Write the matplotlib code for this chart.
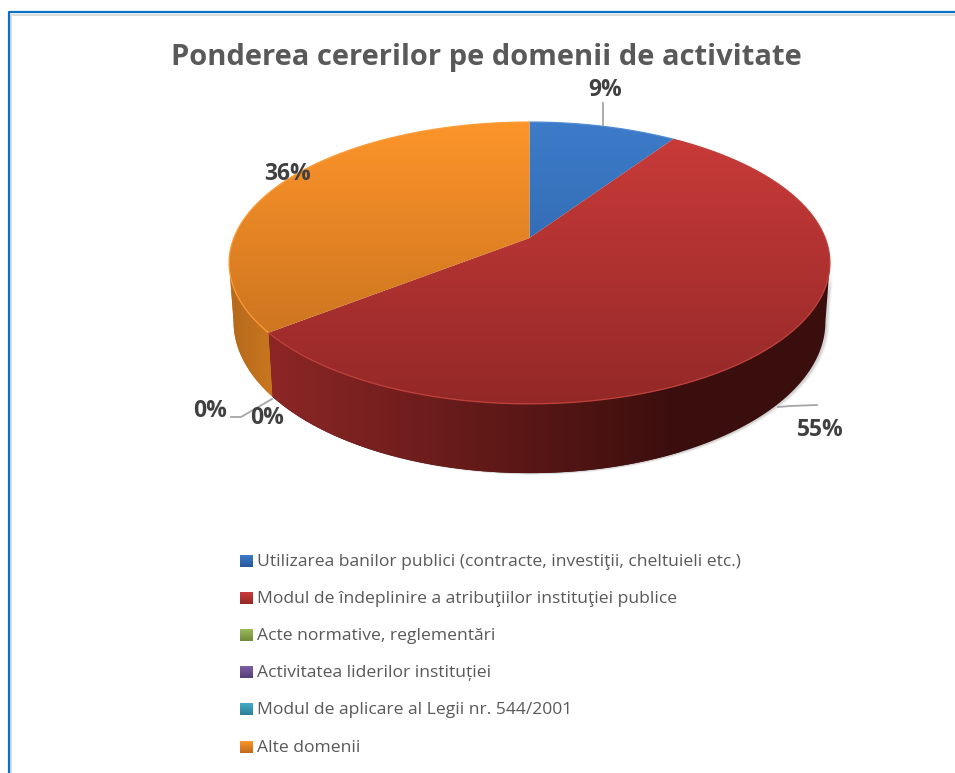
import numpy as np
import matplotlib
matplotlib.use("Agg")
from matplotlib import pyplot as plt
from matplotlib.colors import to_rgb
from matplotlib.patches import Polygon

title = "Ponderea cererilor pe domenii de activitate"
categories = [
    "Utilizarea banilor publici (contracte, investiţii, cheltuieli etc.)",
    "Modul de îndeplinire a atribuţiilor instituţiei publice",
    "Acte normative, reglementări",
    "Activitatea liderilor instituției",
    "Modul de aplicare al Legii nr. 544/2001",
    "Alte domenii",
]
values = [9.4, 55, 0, 0, 0, 35.6]

top_colors = [("#3d7cca", "#28599a"), ("#cc3c3a", "#922827"), ("#9bbb59", "#6f8a3a"),
              ("#7d5fa5", "#553d78"), ("#46aac5", "#2c7f98"), ("#fd952a", "#bd6a1c")]
wall_colors = [("#28599a", "#1c3f6e"), ("#8e2726", "#3a0e0d"), ("#6f8a3a", "#4e6228"),
               ("#553d78", "#3a2853"), ("#2c7f98", "#1d5a6d"), ("#b3681c", "#cc771f")]
wall_range = [(529, 672), (262, 680), (0, 1), (0, 1), (0, 1), (225, 278)]
rim_colors = ["#4f8ad4", "#c0413c", "#9bbb59", "#7d5fa5", "#46aac5", "#fd9c38"]

# pozitii in pixeli
cx, cy = 529.5, 238
R, H, K, D = 295.7, 136.5, 0.177, 57
label_pos = [(605, 90), (820, 430), (210, 411), (267, 418), None, (288, 174)]
legend_y = [562, 599, 636, 673, 710, 748]

plt.rcParams["font.family"] = ["Open Sans", "DejaVu Sans"]
fig = plt.figure(figsize=(9.55, 7.73), dpi=100)
ax = fig.add_axes([0, 0, 1, 1])
ax.axis("off")


def top_xy(theta):
    u, v = np.sin(theta), np.cos(theta)
    s = 1 / (1 + K * v)
    return cx + R * u * s, cy - H * v * s


def base_xy(theta):
    u, v = np.sin(theta), np.cos(theta)
    s = 1 / (1 + K * v)
    return cx + 0.985 * R * u * s, cy - H * v * s + D * s


def gradient(c1, c2, extent, zorder, horizontal=False):
    a, b = np.array(to_rgb(c1)), np.array(to_rgb(c2))
    t = np.linspace(0, 1, 256)
    if horizontal:
        t = t[None, :, None]
    else:
        t = t[:, None, None]
    img = a[None, None, :] * (1 - t) + b[None, None, :] * t
    return ax.imshow(img, extent=extent, aspect="auto", zorder=zorder, interpolation="bilinear")


angles = 2 * np.pi * np.cumsum([0] + values) / sum(values)
# peretele se vede doar intre cele doua tangente verticale
side_a = np.arccos(-K)
side_b = 2 * np.pi - side_a

# umbra
th = np.linspace(side_a, side_b, 300)
x1, y1 = top_xy(th)
x2, y2 = base_xy(th)
for off, alpha in [(4, 0.06), (3, 0.09), (2, 0.12)]:
    ax.fill(np.r_[x1, x2[::-1]] + off, np.r_[y1, y2[::-1]] + off * 0.4, color="#555555", alpha=alpha, lw=0, zorder=1)

# peretele lateral
for i, val in enumerate(values):
    start, end = max(angles[i], side_a), min(angles[i + 1], side_b)
    if val == 0 or end <= start:
        continue
    th = np.linspace(start, end, 200)
    x1, y1 = top_xy(th)
    x2, y2 = base_xy(th)
    pts = np.column_stack([np.r_[x1, x2[::-1]], np.r_[y1, y2[::-1]]])
    # in afara intervalului culoarea ramane constanta
    ax.add_patch(Polygon(pts, closed=True, fc=wall_colors[i][1], ec="none", zorder=1.5))
    poly = Polygon(pts, closed=True, fc="none", ec="none", zorder=2)
    ax.add_patch(poly)
    x0, x9 = wall_range[i]
    im = gradient(wall_colors[i][0], wall_colors[i][1], (x0, x9, 480, 100), 2, horizontal=True)
    im.set_clip_path(poly)

# fata de sus
for i, val in enumerate(values):
    if val == 0:
        continue
    th = np.linspace(angles[i], angles[i + 1], 300)
    x, y = top_xy(th)
    poly = Polygon(np.column_stack([np.r_[cx, x], np.r_[cy, y]]), closed=True, fc="none", ec="none", zorder=3)
    ax.add_patch(poly)
    im = gradient(top_colors[i][0], top_colors[i][1], (220, 840, 410, 118), 3)
    im.set_clip_path(poly)
    ax.plot(x, y, color=rim_colors[i], lw=0.9, zorder=4, solid_capstyle="butt")

# etichete
for val, pos in zip(values, label_pos):
    if pos is None:
        continue
    ax.text(pos[0], pos[1], f"{val:.0f}%", ha="center", va="center", fontsize=16.5,
            fontweight="bold", color="#404040", zorder=6)

ax.plot([603, 603], [103, 125], color="#a6a6a6", lw=1.3, zorder=2)
ax.plot([778, 790, 817], [407, 406, 405], color="#a6a6a6", lw=1.3, zorder=5)
ax.plot([231, 241, 272], [417, 417, 399], color="#a6a6a6", lw=1.3, zorder=5)

ax.text(486.5, 57, title, ha="center", va="center", fontsize=21, fontweight="bold", color="#595959")

# legenda
for i, name in enumerate(categories):
    y = legend_y[i]
    gradient(top_colors[i][0], top_colors[i][1], (240, 253, y + 5.5, y - 6), 3)
    ax.text(257, y, name, ha="left", va="center", fontsize=12.6, color="#595959")

# chenar
ax.plot([11, 11, 955], [773, 14.5, 14.5], color="#dcdcdc", lw=1.5)
ax.plot([9, 9, 955], [773, 12, 12], color="#0a70c0", lw=1.6)

ax.set_xlim(0, 955)
ax.set_ylim(773, 0)
fig.savefig("out.png", dpi=100, facecolor="white")
